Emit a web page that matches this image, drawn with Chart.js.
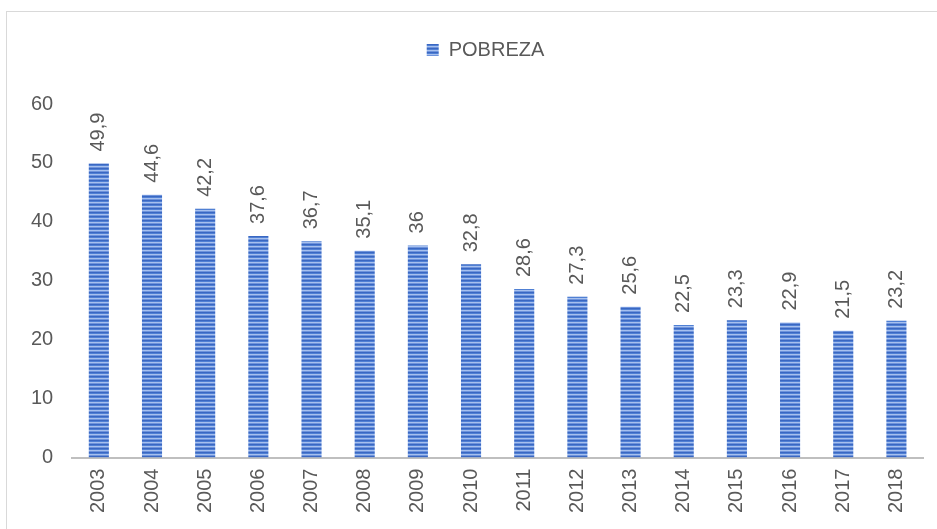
<!DOCTYPE html>
<html>
<head>
<meta charset="utf-8">
<script src="https://cdn.jsdelivr.net/npm/chart.js@4"></script>
<style>
  body { margin: 0; background: #fff; }
  .wrap { position: relative; width: 937px; height: 529px; }
  .frame { position: absolute; left: 6px; top: 11px; right: 0; bottom: 0;
           border-top: 1px solid #d9d9d9; border-left: 1px solid #d9d9d9; }
  canvas { position: absolute; left: 0; top: 0; }
</style>
</head>
<body>
<div class="wrap">
  <div class="frame"></div>
  <canvas id="chart" width="937" height="529"></canvas>
</div>
<script>
const years = ['2003', '2004', '2005', '2006', '2007', '2008', '2009', '2010',
  '2011', '2012', '2013', '2014', '2015', '2016', '2017', '2018'];
const pobreza = [49.9, 44.6, 42.2, 37.6, 36.7, 35.1, 36, 32.8,
  28.6, 27.3, 25.6, 22.5, 23.3, 22.9, 21.5, 23.2];
const yTicks = [0, 10, 20, 30, 40, 50, 60];

const textColor = '#595959';
const fontFamily = '"Liberation Sans", Arial, sans-serif';
const fontSize = 20;

const ctx = document.getElementById('chart').getContext('2d');

// striped fill like the original
const fill = ctx.createPattern((function () {
  const c = document.createElement('canvas');
  c.width = 4; c.height = 4;
  const g = c.getContext('2d');
  ['#3a67c2', '#5080d4', '#a7c0ee', '#6e94dc'].forEach((col, i) => {
    g.fillStyle = col; g.fillRect(0, i, 4, 1);
  });
  return c;
})(), 'repeat');

// extra room under the legend, legend nudged to the right
const legendGap = {
  id: 'legendGap',
  beforeInit(chart) {
    const fit = chart.legend.fit;
    chart.legend.fit = function () {
      fit.bind(this)();
      this.height += 34;
    };
  },
  beforeDraw(chart) {
    chart.legend.left += 18;
    chart.legend.right += 18;
  }
};

// rotated value labels above the bars
const valueLabels = {
  id: 'valueLabels',
  afterDatasetsDraw(chart) {
    const c = chart.ctx;
    const meta = chart.getDatasetMeta(0);
    c.save();
    c.fillStyle = textColor;
    c.font = fontSize + 'px ' + fontFamily;
    c.textAlign = 'left';
    c.textBaseline = 'middle';
    meta.data.forEach((bar, i) => {
      c.save();
      c.translate(bar.x, bar.y - 12);
      c.rotate(-Math.PI / 2);
      c.fillText(String(pobreza[i]).replace('.', ','), 0, 0);
      c.restore();
    });
    c.restore();
  }
};

new Chart(ctx, {
  type: 'bar',
  data: {
    labels: years,
    datasets: [{
      label: 'POBREZA',
      data: pobreza,
      backgroundColor: fill,
      borderWidth: 0,
      barPercentage: 0.9,
      categoryPercentage: 0.42
    }]
  },
  options: {
    responsive: false,
    animation: false,
    layout: { padding: { left: 12, right: 14, top: 40, bottom: 5 } },
    plugins: {
      legend: {
        position: 'top',
        labels: {
          boxWidth: 12,
          boxHeight: 12,
          color: textColor,
          font: { family: fontFamily, size: fontSize },
          padding: 0
        }
      },
      tooltip: { enabled: false }
    },
    scales: {
      x: {
        grid: { display: false, drawTicks: false },
        border: { display: true, color: '#bfbfbf', width: 2 },
        ticks: {
          color: textColor,
          font: { family: fontFamily, size: fontSize },
          maxRotation: 90,
          minRotation: 90,
          padding: 11
        }
      },
      y: {
        min: 0,
        max: 60,
        afterBuildTicks(axis) { axis.ticks = yTicks.map(v => ({ value: v })); },
        grid: { display: false, drawTicks: false },
        border: { display: false },
        ticks: {
          color: textColor,
          font: { family: fontFamily, size: fontSize },
          padding: 19
        }
      }
    }
  },
  plugins: [legendGap, valueLabels]
});
</script>
</body>
</html>
